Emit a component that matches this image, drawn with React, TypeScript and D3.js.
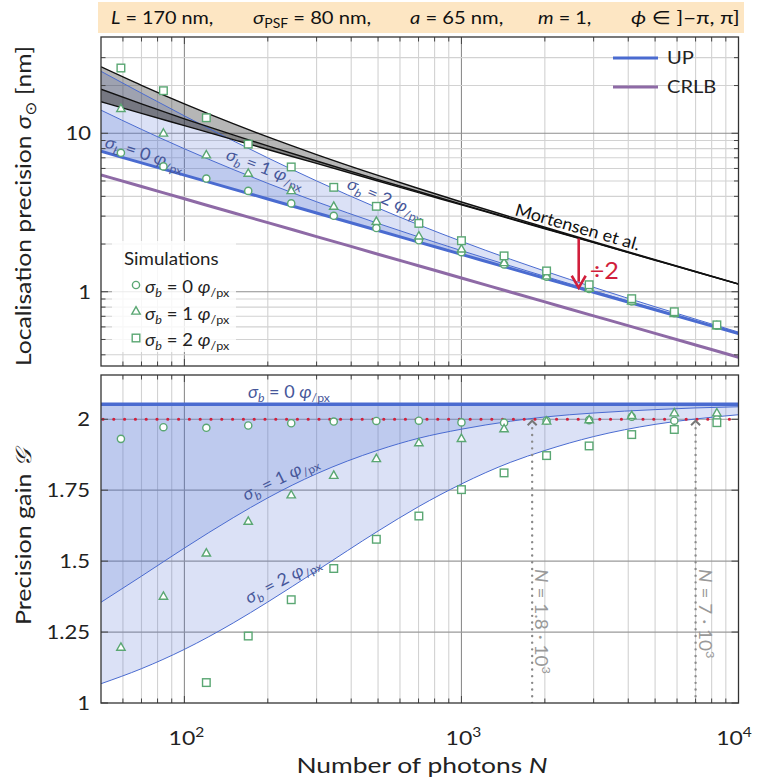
import React from 'react';
import * as d3 from 'd3';

// ---------- data ----------
const curveN = [50, 70, 100, 150, 200, 300, 500, 700, 1000, 1500, 2000, 3000, 5000, 7000, 10000];
const upSigma0 = [7.695, 6.504, 5.442, 4.443, 3.848, 3.142, 2.434, 2.057, 1.721, 1.405, 1.217, 0.9935, 0.7695, 0.6504, 0.5442];
const upSigma1 = [13.99, 10.58, 7.982, 5.908, 4.83, 3.696, 2.699, 2.219, 1.817, 1.458, 1.251, 1.012, 0.7784, 0.6557, 0.5473];
const upSigma2 = [24.59, 17.91, 12.88, 8.964, 6.993, 5.003, 3.373, 2.648, 2.08, 1.606, 1.35, 1.067, 0.8042, 0.6714, 0.5565];
const mortensen0 = [15.8, 13.35, 11.17, 9.121, 7.899, 6.45, 4.996, 4.222, 3.533, 2.884, 2.498, 2.04, 1.58, 1.335, 1.117];
const mortensen1 = [18.96, 15.31, 12.34, 9.768, 8.323, 6.683, 5.105, 4.289, 3.571, 2.906, 2.512, 2.047, 1.583, 1.337, 1.118];
const mortensen2 = [26.26, 20.07, 15.32, 11.49, 9.482, 7.336, 5.418, 4.481, 3.685, 2.968, 2.552, 2.069, 1.594, 1.344, 1.122];
const crlb = [5.459, 4.614, 3.86, 3.152, 2.729, 2.229, 1.726, 1.459, 1.221, 0.9967, 0.8631, 0.7047, 0.5459, 0.4614, 0.386];

const gainSigma0 = [2.053, 2.053, 2.053, 2.053, 2.053, 2.053, 2.053, 2.053, 2.053, 2.053, 2.053, 2.053, 2.053, 2.053, 2.053];
const gainSigma1 = [1.355, 1.447, 1.546, 1.653, 1.723, 1.808, 1.891, 1.933, 1.965, 1.993, 2.008, 2.022, 2.034, 2.04, 2.044];
const gainSigma2 = [1.068, 1.121, 1.189, 1.282, 1.356, 1.466, 1.606, 1.692, 1.772, 1.848, 1.89, 1.939, 1.982, 2.001, 2.016];

const simN = [59, 84, 120, 170, 243, 346, 493, 702, 1000, 1425, 2029, 2890, 4117, 5865, 8355];
const simPrecision0 = [7.53, 6.18, 5.18, 4.33, 3.61, 3.015, 2.523, 2.113, 1.776, 1.488, 1.243, 1.041, 0.867, 0.731, 0.611];
const simPrecision1 = [14.26, 9.96, 7.26, 5.56, 4.32, 3.44, 2.765, 2.235, 1.849, 1.518, 1.252, 1.045, 0.868, 0.723, 0.606];
const simPrecision2 = [25.81, 18.56, 12.53, 8.54, 6.13, 4.56, 3.46, 2.7, 2.1, 1.684, 1.353, 1.107, 0.904, 0.748, 0.618];
const simGain0 = [1.931, 1.972, 1.97, 1.978, 1.986, 1.992, 1.994, 1.995, 1.989, 1.988, 1.995, 1.997, 2.009, 1.995, 2.0];
const simGain1 = [1.195, 1.375, 1.527, 1.639, 1.732, 1.801, 1.86, 1.916, 1.931, 1.965, 1.992, 1.997, 2.012, 2.021, 2.021];
const simGain2 = [0.89, 0.94, 1.072, 1.236, 1.364, 1.474, 1.577, 1.659, 1.752, 1.811, 1.872, 1.906, 1.946, 1.964, 1.988];

const xMajorTicks = [100, 1000, 10000];
const xMinorTicks = [60, 70, 80, 90, 200, 300, 400, 500, 600, 700, 800, 900, 2000, 3000, 4000, 5000, 6000, 7000, 8000, 9000];
const topMajorTicks = [1, 10];
const topMinorTicks = [0.4, 0.5, 0.6, 0.7, 0.8, 0.9, 2, 3, 4, 5, 6, 7, 8, 9, 20, 30];
const gainTicks = [1, 1.25, 1.5, 1.75, 2];
const crossoverN = [1800, 7000];
const crossoverLabels = ['1.8', '7'];
const gainTarget = 2;
const arrowN = 2650;
const arrowFrom = 2.17;
const arrowTo = 1.06;

// ---------- layout ----------
const W = 758, H = 783;
const X0 = 101, X1 = 738.5;
const TY0 = 37, TY1 = 366;
const BY0 = 375, BY1 = 703;
const FONT = "Lato, 'DejaVu Sans', sans-serif";
const BLUE = '#4a6bd0';
const PURPLE = '#8e6aa6';
const GREEN = '#5aa773';
const RED = '#d11f3c';
const LABEL = '#46579a';
const INK = '#222';
const GRID_MINOR = '#d2d2d2';
const GRID_MAJOR = '#8e8e8e';

function T({ x, y, rot = 0, sx = 1, anchor = 'start', fs, fill = INK, children }: any) {
  return (
    <g transform={`translate(${x},${y}) rotate(${rot}) scale(${sx},1)`}>
      <text x={0} y={0} fontSize={fs} fill={fill} textAnchor={anchor}>{children}</text>
    </g>
  );
}

function Sig({ k, fs }: { k: number; fs: number }) {
  const s = fs * 0.68;
  const d = fs * 0.25;
  return (
    <>
      <tspan fontStyle="italic">σ</tspan>
      <tspan fontStyle="italic" fontSize={s} dy={d}>b</tspan>
      <tspan dy={-d}>{` = ${k} `}</tspan>
      <tspan fontStyle="italic">φ</tspan>
      <tspan fontSize={s} dy={d}>/px</tspan>
    </>
  );
}

function Marker({ shape, cx, cy }: { shape: number; cx: number; cy: number }) {
  const common = { fill: 'white', stroke: GREEN, strokeWidth: 1.4 };
  if (shape === 0) return <circle cx={cx} cy={cy} r={3.6} {...common} />;
  if (shape === 1)
    return <path d={`M${cx},${cy - 4.8}L${cx + 4.2},${cy + 2.6}L${cx - 4.2},${cy + 2.6}Z`} {...common} />;
  return <rect x={cx - 3.8} y={cy - 3.8} width={7.6} height={7.6} {...common} />;
}

export default function App() {
  const x = d3.scaleLog().domain([50, 10000]).range([X0, X1]);
  const yT = d3.scaleLog().domain([0.34, 40.5]).range([TY1, TY0]);
  const yB = d3.scaleLinear().domain([1, 2.156]).range([BY1, BY0]);

  const lineT = (v: number[]) =>
    d3.line<number>().x((_, i) => x(curveN[i])).y((d) => yT(d)).curve(d3.curveMonotoneX)(v) || '';
  const areaT = (lo: number[], hi: number[]) =>
    d3.area<number>().x((_, i) => x(curveN[i])).y0((_, i) => yT(lo[i])).y1((d) => yT(d)).curve(d3.curveMonotoneX)(hi) || '';
  const lineB = (v: number[]) =>
    d3.line<number>().x((_, i) => x(curveN[i])).y((d) => yB(d)).curve(d3.curveMonotoneX)(v) || '';
  const areaB = (lo: number[], hi: number[]) =>
    d3.area<number>().x((_, i) => x(curveN[i])).y0((_, i) => yB(lo[i])).y1((d) => yB(d)).curve(d3.curveMonotoneX)(hi) || '';

  const simTop = [simPrecision0, simPrecision1, simPrecision2];
  const simBot = [simGain0, simGain1, simGain2];

  const xTicksAll = [...xMinorTicks.map((v) => ({ v, major: false })), ...xMajorTicks.filter((v) => v < 10000).map((v) => ({ v, major: true }))];

  return (
    <svg width={W} height={H} style={{ position: 'absolute', left: 0, top: 0, background: 'white' }} fontFamily={FONT}>
      <defs>
        <clipPath id="clipTop"><rect x={X0} y={TY0} width={X1 - X0} height={TY1 - TY0} /></clipPath>
        <clipPath id="clipBot"><rect x={X0} y={BY0} width={X1 - X0} height={BY1 - BY0} /></clipPath>
      </defs>

      {/* header banner */}
      <rect x={98} y={2} width={646} height={31} fill="#fde6c3" />
      <T x={111} y={24} fs={18} sx={1.1} fill="#111"><tspan fontStyle="italic">L</tspan> = 170 nm,</T>
      <T x={253} y={24} fs={18} sx={1.12} fill="#111"><tspan fontStyle="italic">σ</tspan><tspan fontSize={12.5} dy={4}>PSF</tspan><tspan dy={-4}> = 80 nm,</tspan></T>
      <T x={410} y={24} fs={18} sx={1.12} fill="#111"><tspan fontStyle="italic">a</tspan> = 65 nm,</T>
      <T x={538} y={24} fs={18} sx={1.1} fill="#111"><tspan fontStyle="italic">m</tspan> = 1,</T>
      <T x={631} y={24} fs={18} sx={1.22} fill="#111"><tspan fontStyle="italic">ϕ</tspan> ∈ ]−π, π]</T>

      {/* ============ TOP PANEL ============ */}
      <g>
        {xTicksAll.map(({ v, major }) => (
          <line key={'tv' + v} x1={x(v)} x2={x(v)} y1={TY0} y2={TY1} stroke={major ? GRID_MAJOR : GRID_MINOR} strokeWidth={1.1} />
        ))}
        {topMinorTicks.map((v) => (
          <line key={'th' + v} x1={X0} x2={X1} y1={yT(v)} y2={yT(v)} stroke={GRID_MINOR} strokeWidth={1.1} />
        ))}
        {topMajorTicks.map((v) => (
          <line key={'thm' + v} x1={X0} x2={X1} y1={yT(v)} y2={yT(v)} stroke={GRID_MAJOR} strokeWidth={1.1} />
        ))}
      </g>
      <g clipPath="url(#clipTop)">
        <path d={areaT(upSigma0, upSigma1)} fill={BLUE} fillOpacity={0.36} />
        <path d={areaT(upSigma1, upSigma2)} fill={BLUE} fillOpacity={0.2} />
        <path d={areaT(mortensen1, mortensen2)} fill="#222" fillOpacity={0.33} />
        <path d={areaT(mortensen0, mortensen1)} fill="#222" fillOpacity={0.55} />
        <path d={lineT(upSigma1)} fill="none" stroke={BLUE} strokeWidth={1} />
        <path d={lineT(upSigma2)} fill="none" stroke={BLUE} strokeWidth={1} />
        <path d={lineT(upSigma0)} fill="none" stroke={BLUE} strokeWidth={3} />
        <path d={lineT(crlb)} fill="none" stroke={PURPLE} strokeWidth={3} />
        <path d={lineT(mortensen0)} fill="none" stroke="#111" strokeWidth={1.4} />
        <path d={lineT(mortensen1)} fill="none" stroke="#111" strokeWidth={1.4} />
        <path d={lineT(mortensen2)} fill="none" stroke="#111" strokeWidth={1.4} />
      </g>

      {/* curve labels top */}
      <T x={104} y={147} rot={17.5} sx={1.06} fs={17} fill={LABEL}><Sig k={0} fs={17} /></T>
      <T x={225} y={159} rot={21} sx={1.06} fs={17} fill={LABEL}><Sig k={1} fs={17} /></T>
      <T x={346} y={188} rot={23} sx={1.06} fs={17} fill={LABEL}><Sig k={2} fs={17} /></T>
      <T x={514} y={215} rot={16} sx={1.06} fs={17} fill="#111">Mortensen et al.</T>

      {/* arrow ÷2 */}
      <g>
        <line x1={x(arrowN)} x2={x(arrowN)} y1={yT(arrowFrom)} y2={yT(arrowTo) - 6} stroke={RED} strokeWidth={2.6} />
        <path d={`M${x(arrowN) - 7},${yT(arrowTo) - 12}L${x(arrowN)},${yT(arrowTo)}L${x(arrowN) + 7},${yT(arrowTo) - 12}`} fill="none" stroke={RED} strokeWidth={2.6} />
      </g>
      <T x={x(arrowN) + 11} y={yT(arrowTo) - 9} fs={24} sx={1.05} fill={RED}>÷2</T>

      {/* simulation markers top */}
      <g clipPath="url(#clipTop)">
        {simTop.map((arr, k) =>
          arr.map((v, i) => <Marker key={`mt${k}-${i}`} shape={k} cx={x(simN[i])} cy={yT(v)} />)
        )}
      </g>

      {/* legend top-right */}
      <line x1={613} x2={658} y1={58} y2={58} stroke={BLUE} strokeWidth={3.2} />
      <T x={667} y={64} fs={17.5} sx={1.15}>UP</T>
      <line x1={613} x2={658} y1={87} y2={87} stroke={PURPLE} strokeWidth={3.2} />
      <T x={667} y={93} fs={17.5} sx={1.15}>CRLB</T>

      {/* simulations legend */}
      <rect x={112} y={241} width={124} height={111} fill="white" fillOpacity={0.82} />
      <T x={124} y={265} fs={17} sx={1.1}>Simulations</T>
      {[0, 1, 2].map((k) => (
        <g key={'lg' + k}>
          <Marker shape={k} cx={136} cy={285 + k * 26.5} />
          <T x={145} y={293 + k * 26.5} fs={17} sx={1.09}><Sig k={k} fs={17} /></T>
        </g>
      ))}

      {/* frame & ticks top */}
      <g stroke="#444" strokeWidth={1}>
        {xTicksAll.map(({ v, major }) => (
          <g key={'tk' + v}>
            <line x1={x(v)} x2={x(v)} y1={TY1} y2={TY1 - (major ? 7 : 4.5)} />
            <line x1={x(v)} x2={x(v)} y1={TY0} y2={TY0 + (major ? 7 : 4.5)} />
          </g>
        ))}
        {[...topMinorTicks, ...topMajorTicks].map((v) => (
          <g key={'tky' + v}>
            <line x1={X0} x2={X0 + (topMajorTicks.includes(v) ? 7 : 4.5)} y1={yT(v)} y2={yT(v)} />
            <line x1={X1} x2={X1 - (topMajorTicks.includes(v) ? 7 : 4.5)} y1={yT(v)} y2={yT(v)} />
          </g>
        ))}
      </g>
      <rect x={X0} y={TY0} width={X1 - X0} height={TY1 - TY0} fill="none" stroke="#333" strokeWidth={1.3} />
      {topMajorTicks.map((v) => (
        <T key={'tl' + v} x={91} y={yT(v) + 7} fs={19.5} sx={1.13} anchor="end">{v}</T>
      ))}

      {/* ============ BOTTOM PANEL ============ */}
      <g>
        {xTicksAll.map(({ v, major }) => (
          <line key={'bv' + v} x1={x(v)} x2={x(v)} y1={BY0} y2={BY1} stroke={major ? GRID_MAJOR : GRID_MINOR} strokeWidth={1.1} />
        ))}
        {gainTicks.filter((v) => v > 1).map((v) => (
          <line key={'bh' + v} x1={X0} x2={X1} y1={yB(v)} y2={yB(v)} stroke="#9a9a9a" strokeWidth={1.2} />
        ))}
      </g>
      <g clipPath="url(#clipBot)">
        <path d={areaB(gainSigma1, gainSigma0)} fill={BLUE} fillOpacity={0.36} />
        <path d={areaB(gainSigma2, gainSigma1)} fill={BLUE} fillOpacity={0.2} />
        <path d={lineB(gainSigma1)} fill="none" stroke={BLUE} strokeWidth={1} />
        <path d={lineB(gainSigma2)} fill="none" stroke={BLUE} strokeWidth={1} />
        <path d={lineB(gainSigma0)} fill="none" stroke={BLUE} strokeWidth={3.4} />
        <line x1={X0 + 2} x2={X1} y1={yB(gainTarget)} y2={yB(gainTarget)} stroke={RED} strokeWidth={3.2} strokeLinecap="round" strokeDasharray="0 10.8" />
        {crossoverN.map((n) => (
          <g key={'co' + n}>
            <line x1={x(n)} x2={x(n)} y1={yB(gainTarget) + 9} y2={BY1} stroke="#8a8a8a" strokeWidth={2.4} strokeLinecap="round" strokeDasharray="0 6.7" />
            <path d={`M${x(n) - 4.5},${yB(gainTarget) + 6}L${x(n)},${yB(gainTarget) + 1.5}L${x(n) + 4.5},${yB(gainTarget) + 6}`} fill="none" stroke="#777" strokeWidth={2} />
          </g>
        ))}
      </g>
      {crossoverN.map((n, i) => (
        <T key={'cl' + n} x={x(n) + 3} y={569} rot={90} fs={17} sx={1.12} fill="#999">
          <tspan fontStyle="italic">N</tspan>
          <tspan>{` = ${crossoverLabels[i]} · 10`}</tspan>
          <tspan fontSize={11.5} dy={-7}>3</tspan>
        </T>
      ))}
      <g clipPath="url(#clipBot)">
        {simBot.map((arr, k) =>
          arr.map((v, i) =>
            v >= 1 ? <Marker key={`mb${k}-${i}`} shape={k} cx={x(simN[i])} cy={yB(v)} /> : null
          )
        )}
      </g>
      <T x={248} y={398} fs={17} sx={1.06} fill={LABEL}><Sig k={0} fs={17} /></T>
      <T x={246} y={501} rot={-26} fs={17} sx={1.06} fill={LABEL}><Sig k={1} fs={17} /></T>
      <T x={249} y={604} rot={-28} fs={17} sx={1.06} fill={LABEL}><Sig k={2} fs={17} /></T>

      <g stroke="#444" strokeWidth={1}>
        {xTicksAll.map(({ v, major }) => (
          <g key={'bk' + v}>
            <line x1={x(v)} x2={x(v)} y1={BY1} y2={BY1 - (major ? 7 : 4.5)} />
            <line x1={x(v)} x2={x(v)} y1={BY0} y2={BY0 + (major ? 7 : 4.5)} />
          </g>
        ))}
        {gainTicks.map((v) => (
          <g key={'bky' + v}>
            <line x1={X0} x2={X0 + 7} y1={yB(v)} y2={yB(v)} />
            <line x1={X1} x2={X1 - 7} y1={yB(v)} y2={yB(v)} />
          </g>
        ))}
      </g>
      <rect x={X0} y={BY0} width={X1 - X0} height={BY1 - BY0} fill="none" stroke="#333" strokeWidth={1.3} />
      {gainTicks.map((v) => (
        <T key={'bl' + v} x={90} y={yB(v) + 7} fs={19.5} sx={1.13} anchor="end">{String(v)}</T>
      ))}
      {xMajorTicks.map((v) => (
        <T key={'xl' + v} x={Math.min(x(v) + 2, 734)} y={745} fs={20} sx={1.15} anchor="middle">
          10<tspan fontSize={13.5} dy={-8}>{Math.round(Math.log10(v))}</tspan>
        </T>
      ))}

      {/* axis titles */}
      <T x={422} y={773} fs={22} sx={1.2} anchor="middle">
        Number of photons <tspan fontStyle="italic">N</tspan>
      </T>
      <T x={31} y={206} rot={-90} fs={22} sx={1.12} anchor="middle">
        Localisation precision <tspan fontStyle="italic">σ</tspan><tspan fontSize={15} dy={5}>⊙</tspan><tspan dy={-5}> [nm]</tspan>
      </T>
      <T x={31} y={537} rot={-90} fs={22} sx={1.14} anchor="middle">
        Precision gain <tspan fontStyle="italic">𝒢</tspan>
      </T>
    </svg>
  );
}
